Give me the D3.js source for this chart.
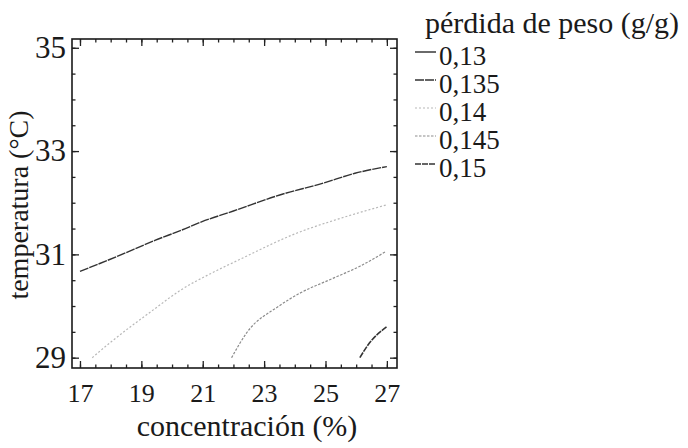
<!DOCTYPE html>
<html>
<head>
<meta charset="utf-8">
<script src="https://cdn.jsdelivr.net/npm/d3@7"></script>
<style>
  body { margin: 0; background: #fff; }
  text { font-family: 'Liberation Serif', 'Times New Roman', serif; fill: #1a1a1a; }
</style>
</head>
<body>
<svg id="chart"></svg>
<script>
// contour levels shown in the legend
var levels = ['0,13', '0,135', '0,14', '0,145', '0,15']
var levelStyles = [
  { color: '#2a2a2a', dash: null, width: 1.4 },
  { color: '#333333', dash: '9,1', width: 1.4 },
  { color: '#b8b8b8', dash: '2,2', width: 1.2 },
  { color: '#8c8c8c', dash: '2.5,1.5', width: 1.2 },
  { color: '#333333', dash: '6,1', width: 1.6 }
]

// contour lines (concentración, temperatura)
var line0135 = [[17.0, 30.67], [18.25, 30.97], [19.44, 31.27], [20.31, 31.47], [20.96, 31.63],
  [22.0, 31.84], [23.51, 32.15], [24.93, 32.38], [25.96, 32.57], [27.0, 32.7]]
var line014 = [[17.4, 29.0], [17.98, 29.29], [19.4, 29.93], [20.26, 30.3], [21.3, 30.64],
  [22.2, 30.9], [24.06, 31.41], [25.5, 31.7], [27.0, 31.96]]
var line0145 = [[21.94, 29.0], [22.43, 29.48], [23.46, 29.99], [24.17, 30.25], [25.14, 30.51],
  [26.12, 30.77], [26.98, 31.06]]
var line015 = [[26.12, 29.0], [26.39, 29.25], [27.0, 29.6]]

var contours = [
  { level: 1, points: line0135 },
  { level: 2, points: line014 },
  { level: 3, points: line0145 },
  { level: 4, points: line015 }
]

var xTicks = [17, 19, 21, 23, 25, 27]
var yTicks = [29, 31, 33, 35]

var width = 688
var height = 448
var plotLeft = 72, plotRight = 397, plotTop = 39, plotBottom = 368

var svg = d3.select('#chart').attr('width', width).attr('height', height)

var x = d3.scaleLinear().domain([16.74, 27.33]).range([plotLeft, plotRight])
var y = d3.scaleLinear().domain([28.8, 35.17]).range([plotBottom, plotTop])

var xMinor = d3.range(17, 27.01, 0.5)
var yMinor = d3.range(29, 35.01, 0.5)

function ticksOnly(axis) {
  return axis.tickFormat('')
}

// bottom axis with labels
var gx = svg.append('g').attr('transform', `translate(0,${plotBottom})`)
gx.call(ticksOnly(d3.axisBottom(x).tickValues(xMinor).tickSize(-3.5)))
gx.append('g').call(d3.axisBottom(x).tickValues(xTicks).tickSize(-7).tickPadding(16)
  .tickFormat(d3.format('d')))
gx.selectAll('text').attr('font-size', 26)

// top axis, ticks only
var gt = svg.append('g').attr('transform', `translate(0,${plotTop})`)
gt.call(ticksOnly(d3.axisTop(x).tickValues(xMinor).tickSize(-3.5)))
gt.append('g').call(ticksOnly(d3.axisTop(x).tickValues(xTicks).tickSize(-7)))

// left axis with labels
var gy = svg.append('g').attr('transform', `translate(${plotLeft},0)`)
gy.call(ticksOnly(d3.axisLeft(y).tickValues(yMinor).tickSize(-3.5)))
gy.append('g').call(d3.axisLeft(y).tickValues(yTicks).tickSize(-7).tickPadding(6)
  .tickFormat(d3.format('d')))
gy.selectAll('text').attr('font-size', 31)

// right axis, ticks only
var gr = svg.append('g').attr('transform', `translate(${plotRight},0)`)
gr.call(ticksOnly(d3.axisRight(y).tickValues(yMinor).tickSize(-3.5)))
gr.append('g').call(ticksOnly(d3.axisRight(y).tickValues(yTicks).tickSize(-7)))

svg.selectAll('.domain').remove()
svg.selectAll('.tick line').attr('stroke', '#222').attr('stroke-width', 1.3)

// frame
svg.append('rect')
  .attr('x', plotLeft).attr('y', plotTop)
  .attr('width', plotRight - plotLeft).attr('height', plotBottom - plotTop)
  .attr('fill', 'none').attr('stroke', '#1a1a1a').attr('stroke-width', 1.6)

// contour lines
var line = d3.line().x((d) => x(d[0])).y((d) => y(d[1])).curve(d3.curveMonotoneX)

svg.append('g')
  .selectAll('path')
  .data(contours)
  .join('path')
  .attr('d', (d) => line(d.points))
  .attr('fill', 'none')
  .attr('stroke', (d) => levelStyles[d.level].color)
  .attr('stroke-width', (d) => levelStyles[d.level].width)
  .attr('stroke-dasharray', (d) => levelStyles[d.level].dash)

// axis titles
svg.append('text')
  .attr('x', 247).attr('y', 436)
  .attr('text-anchor', 'middle')
  .attr('font-size', 30)
  .text('concentración (%)')

svg.append('text')
  .attr('transform', 'translate(28,205) rotate(-90)')
  .attr('text-anchor', 'middle')
  .attr('font-size', 28)
  .text('temperatura (°C)')

// legend
var legend = svg.append('g')
legend.append('text')
  .attr('x', 425).attr('y', 33)
  .attr('font-size', 30)
  .text('pérdida de peso (g/g)')

var items = legend.selectAll('g.item')
  .data(levels)
  .join('g')
  .attr('class', 'item')
  .attr('transform', (d, i) => `translate(0,${65 + i * 28})`)

items.append('line')
  .attr('x1', 415).attr('x2', 436)
  .attr('y1', -13).attr('y2', -13)
  .attr('stroke', (d, i) => levelStyles[i].color)
  .attr('stroke-width', (d, i) => levelStyles[i].width)
  .attr('stroke-dasharray', (d, i) => levelStyles[i].dash)

items.append('text')
  .attr('x', 439).attr('y', 0)
  .attr('font-size', 27)
  .text((d) => d)
</script>
</body>
</html>
